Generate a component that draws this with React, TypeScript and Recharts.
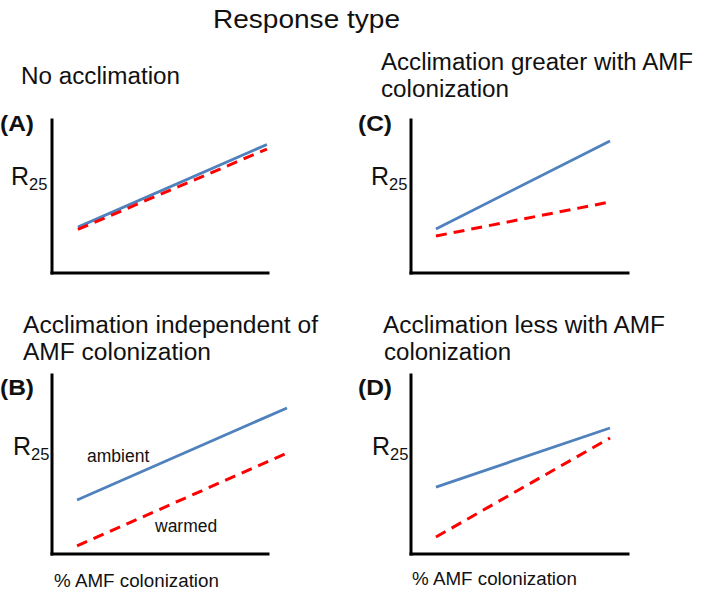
import { LineChart, Line, XAxis, YAxis, ReferenceLine } from 'recharts';

// x positions are % of the drawn x-axis length, y values are % of the y-axis height
const xA = [12, 99.5];
const ambientA = [30, 84];
const warmedA = [28.5, 81];

const xB = [11.6, 108.8];
const ambientB = [30.2, 81.6];
const warmedB = [4.5, 56.4];

const xC = [11.5, 91.7];
const ambientC = [28.8, 86.3];
const warmedC = [24.2, 46.4];

const xD = [11.5, 91.7];
const ambientD = [37.4, 70.4];
const warmedD = [9.5, 64.8];

const BLUE = '#4F81BD';
const RED = '#FF0000';
const FONT = '"Liberation Sans", Arial, sans-serif';
const PAD = 10;

const toRows = (xs: number[], amb: number[], warm: number[]) =>
    xs.map((x, i) => ({ x, ambient: amb[i], warmed: warm[i] }));

interface PanelProps {
    left: number;
    top: number;
    axisW: number;
    axisH: number;
    xs: number[];
    ambient: number[];
    warmed: number[];
}

const Panel = ({ left, top, axisW, axisH, xs, ambient, warmed }: PanelProps) => {
    const data = toRows(xs, ambient, warmed);
    return (
        <div style={{ position: 'absolute', left: left - PAD, top: top - PAD }}>
            <LineChart
                width={axisW * 1.1 + PAD * 2}
                height={axisH + PAD * 2}
                data={data}
                margin={{ top: PAD, right: PAD, bottom: PAD, left: PAD }}
            >
                <XAxis type="number" dataKey="x" domain={[0, 110]} hide />
                <YAxis type="number" domain={[0, 100]} hide />
                <ReferenceLine
                    segment={[{ x: 0, y: 0 }, { x: 0, y: 100 }]}
                    stroke="#000"
                    strokeWidth={3}
                    strokeLinecap="square"
                    ifOverflow="visible"
                />
                <ReferenceLine
                    segment={[{ x: 0, y: 0 }, { x: 100, y: 0 }]}
                    stroke="#000"
                    strokeWidth={3}
                    strokeLinecap="square"
                    ifOverflow="visible"
                />
                <Line
                    type="linear"
                    dataKey="ambient"
                    stroke={BLUE}
                    strokeWidth={2.8}
                    dot={false}
                    isAnimationActive={false}
                />
                <Line
                    type="linear"
                    dataKey="warmed"
                    stroke={RED}
                    strokeWidth={3}
                    strokeDasharray="11 7"
                    dot={false}
                    isAnimationActive={false}
                />
            </LineChart>
        </div>
    );
};

const R25 = ({ x, y }: { x: number; y: number }) => (
    <text x={x} y={y} fontSize={25}>
        R<tspan fontSize={16.5} dy={5}>25</tspan>
    </text>
);

const Title = ({ x, y, w, children }: { x: number; y: number; w: number; children: string }) => (
    <text x={x} y={y} fontSize={23.5} textLength={w} lengthAdjust="spacingAndGlyphs">
        {children}
    </text>
);

const Tag = ({ x, y, children }: { x: number; y: number; children: string }) => (
    <text x={x} y={y} fontSize={22.5} fontWeight="bold" textLength={34} lengthAdjust="spacingAndGlyphs">
        {children}
    </text>
);

export default function App() {
    return (
        <div
            style={{
                position: 'absolute',
                left: 0,
                top: 0,
                width: 709,
                height: 593,
                background: '#fff',
                fontFamily: FONT,
            }}
        >
            <Panel left={52} top={120} axisW={216} axisH={153} xs={xA} ambient={ambientA} warmed={warmedA} />
            <Panel left={52} top={375} axisW={216} axisH={179} xs={xB} ambient={ambientB} warmed={warmedB} />
            <Panel left={411} top={120} axisW={217} axisH={153} xs={xC} ambient={ambientC} warmed={warmedC} />
            <Panel left={411} top={375} axisW={217} axisH={179} xs={xD} ambient={ambientD} warmed={warmedD} />

            <svg
                width={709}
                height={593}
                style={{ position: 'absolute', left: 0, top: 0, pointerEvents: 'none' }}
                fontFamily={FONT}
                fill="#111"
            >
                <text x={213} y={28} fontSize={25.5} textLength={187} lengthAdjust="spacingAndGlyphs">
                    Response type
                </text>

                <Title x={21} y={84} w={159}>No acclimation</Title>
                <Title x={381} y={70} w={312}>Acclimation greater with AMF</Title>
                <Title x={381} y={97} w={128}>colonization</Title>
                <Title x={23} y={333} w={295}>Acclimation independent of</Title>
                <Title x={23} y={360} w={188}>AMF colonization</Title>
                <Title x={383} y={333} w={282}>Acclimation less with AMF</Title>
                <Title x={384} y={360} w={127}>colonization</Title>

                <Tag x={0} y={131}>(A)</Tag>
                <Tag x={358} y={131}>(C)</Tag>
                <Tag x={0} y={395}>(B)</Tag>
                <Tag x={358} y={395}>(D)</Tag>

                <R25 x={11} y={185} />
                <R25 x={371} y={185} />
                <R25 x={13} y={455} />
                <R25 x={372} y={455} />

                <text x={87} y={462} fontSize={17.5}>ambient</text>
                <text x={155} y={532} fontSize={17.5}>warmed</text>

                <text x={54} y={587} fontSize={18.8}>% AMF colonization</text>
                <text x={412} y={585} fontSize={18.8}>% AMF colonization</text>
            </svg>
        </div>
    );
}
